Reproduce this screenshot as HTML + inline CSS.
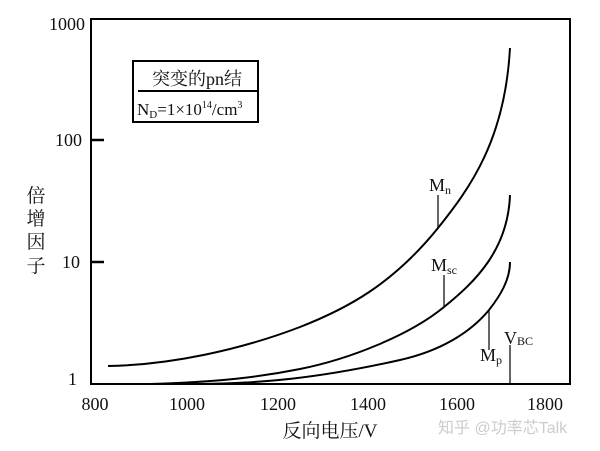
<!DOCTYPE html>
<html><head><meta charset="utf-8"><style>
body{margin:0;background:#fff}
svg{display:block}
text{font-family:"Liberation Serif","Noto Serif CJK SC",serif;fill:#111}
</style></head><body>
<svg width="600" height="451" viewBox="0 0 600 451">
<rect x="91" y="19" width="479" height="365" fill="none" stroke="#000" stroke-width="2"/>
<g stroke="#000" stroke-width="2.5">
<line x1="91" y1="140" x2="104" y2="140"/>
<line x1="91" y1="262" x2="104" y2="262"/>
</g>
<g font-size="18" text-anchor="end">
<text x="85" y="30">1000</text>
<text x="82" y="146">100</text>
<text x="80" y="268">10</text>
<text x="77" y="385">1</text>
</g>
<g font-size="18" text-anchor="middle">
<text x="95" y="410">800</text>
<text x="187" y="410">1000</text>
<text x="278" y="410">1200</text>
<text x="368" y="410">1400</text>
<text x="457" y="410">1600</text>
<text x="545" y="410">1800</text>
</g>
<text x="330" y="437" font-size="19" text-anchor="middle">反向电压/V</text>
<g font-size="19" text-anchor="middle">
<text x="36" y="202">倍</text><text x="36" y="225">增</text><text x="36" y="248">因</text><text x="36" y="272">子</text>
</g>
<rect x="133" y="61" width="125" height="61" fill="none" stroke="#000" stroke-width="2"/>
<line x1="138" y1="91" x2="258" y2="91" stroke="#000" stroke-width="2"/>
<text x="197" y="85" font-size="18" text-anchor="middle">突变的pn结</text>
<text x="137" y="115" font-size="17">N<tspan font-size="11" dy="3">D</tspan><tspan dy="-3">=1×10</tspan><tspan font-size="10" dy="-7">14</tspan><tspan dy="7">/cm</tspan><tspan font-size="10" dy="-7">3</tspan></text>
<g fill="none" stroke="#000" stroke-width="2">
<path d="M108,366 C170,365 240,350 300,327 C346,309 392,285 438,228 C470,188 505,140 510,48"/>
<path d="M150,384 C220,382 260,377 300,369 C350,359 410,335 444,307 C475,282 508,250 510,195"/>
<path d="M190,384 C260,384 320,378 400,360 C440,351 470,333 489,310 C500,296 510,280 510,262"/>
</g>
<g stroke="#000" stroke-width="1.2">
<line x1="438" y1="195" x2="438" y2="228"/>
<line x1="444" y1="275" x2="444" y2="307"/>
<line x1="489" y1="310" x2="489" y2="350"/>
<line x1="510" y1="345" x2="510" y2="384"/>
</g>
<text x="429" y="191" font-size="18">M<tspan font-size="12" dy="3">n</tspan></text>
<text x="431" y="271" font-size="18">M<tspan font-size="12" dy="3">sc</tspan></text>
<text x="480" y="361" font-size="18">M<tspan font-size="12" dy="3">p</tspan></text>
<text x="504" y="344" font-size="18">V<tspan font-size="12" dy="1">BC</tspan></text>
<text x="438" y="433" font-size="16" style="fill:#ccc;font-family:'Liberation Sans','Noto Sans CJK SC',sans-serif">知乎 @功率芯Talk</text>
</svg>
</body></html>
